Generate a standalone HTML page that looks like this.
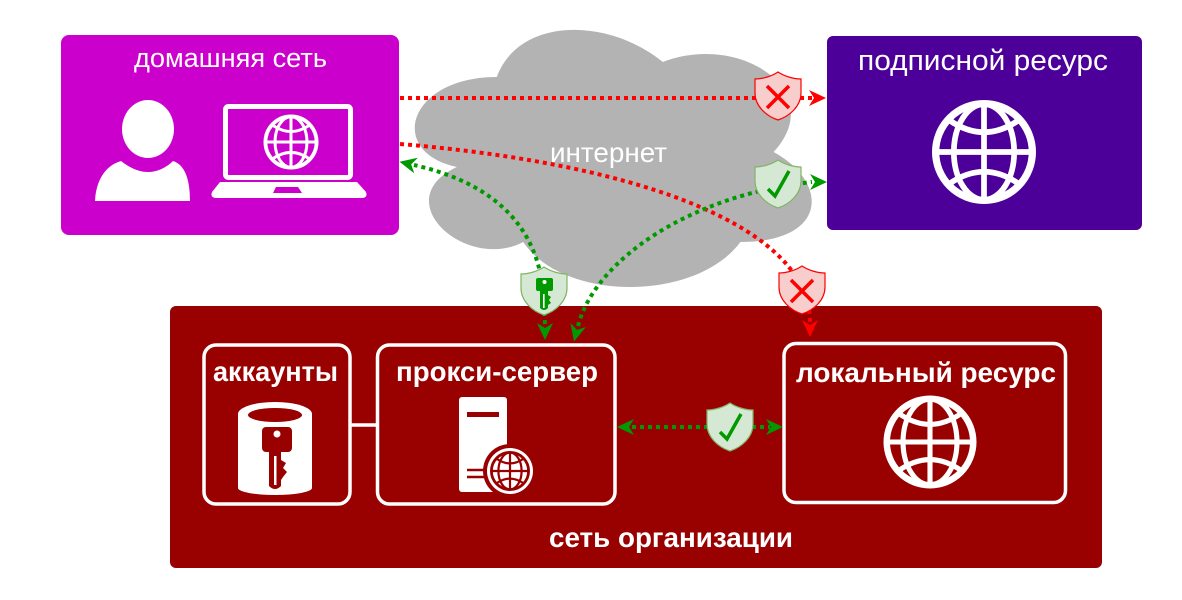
<!DOCTYPE html>
<html><head><meta charset="utf-8"><style>
html,body{margin:0;padding:0;background:#fff;}
svg{display:block;}
text{font-family:"Liberation Sans",Arial,sans-serif;fill:#fff;}
</style></head><body>
<svg width="1182" height="600" viewBox="0 0 1182 600" xmlns="http://www.w3.org/2000/svg">
<defs>
<symbol id="g" viewBox="-50 -50 100 100" overflow="visible">
<g fill="none">
<circle r="46.5" stroke-width="7"/>
<ellipse rx="29" ry="46" stroke-width="5.5"/>
<line x1="0" y1="-46" x2="0" y2="46" stroke-width="5.5"/>
<line x1="-46" y1="0" x2="46" y2="0" stroke-width="5.5"/>
<path d="M-34,-31 Q0,-7 34,-31" stroke-width="5.5"/>
<path d="M-34,31 Q0,7 34,31" stroke-width="5.5"/>
</g>
</symbol>
<symbol id="sh" viewBox="0 0 48 50" overflow="visible">
<path d="M1,8 C9,8 18,5 24,1 C30,5 39,8 47,8 L47,22 C47,35 36,45 24,49 C12,45 1,35 1,22 Z" stroke-width="1.2"/>
</symbol>
<path id="arr" d="M0,0 L-17,-8 L-12,0 L-17,8 Z"/>
</defs>

<rect width="1182" height="600" fill="#fff"/>

<!-- cloud -->
<path d="M496.75,77 C408.15,77 386,152 456.9,167 C386,200 465.7,272 523.3,242 C563.2,302 696.1,302 740.4,242 C829,242 829,182 773.6,152 C829,92 740.4,32 662.9,62 C607.5,17 518.9,17 496.75,77 Z" fill="#B3B3B3"/>
<text x="550" y="162" font-size="28" textLength="117" lengthAdjust="spacingAndGlyphs">интернет</text>

<!-- home network -->
<rect x="61" y="35" width="338" height="200" rx="8" fill="#CC00CC"/>
<text x="134" y="67" font-size="27" textLength="193" lengthAdjust="spacingAndGlyphs">домашняя сеть</text>
<ellipse cx="148" cy="129" rx="26" ry="29" fill="#fff"/>
<path d="M95,201 C96,182 104,166 121,161 C130,168 139,172 148,172 C157,172 166,168 173,161 C186,165 190,182 190,201 Z" fill="#fff"/>
<rect x="225.5" y="106.5" width="125" height="71" rx="3" fill="none" stroke="#fff" stroke-width="5"/>
<path d="M220,182 L357,182 L366,192 Q368,198 362,198 L216,198 Q210,198 212,192 Z" fill="#fff"/>
<path d="M276,187 L298,187 L302,193 L273,193 Z" fill="#CC00CC"/>
<use href="#g" x="263.5" y="114.5" width="55" height="55" stroke="#fff"/>

<!-- subscription resource -->
<rect x="827" y="36" width="315" height="194" rx="6" fill="#4C0099"/>
<text x="858" y="70" font-size="29" textLength="250" lengthAdjust="spacingAndGlyphs">подписной ресурс</text>
<use href="#g" x="932" y="100" width="104" height="104" stroke="#fff"/>

<!-- organization network -->
<rect x="170" y="306" width="932" height="262" rx="6" fill="#990000"/>
<rect x="204" y="345" width="146" height="159" rx="12" fill="none" stroke="#fff" stroke-width="3.5"/>
<rect x="377.5" y="345" width="237.5" height="159" rx="12" fill="none" stroke="#fff" stroke-width="3.5"/>
<rect x="784" y="343.5" width="281.5" height="159" rx="12" fill="none" stroke="#fff" stroke-width="3.5"/>
<line x1="350" y1="425" x2="377.5" y2="425" stroke="#fff" stroke-width="3.5"/>
<text x="213" y="381" font-size="28" font-weight="bold" textLength="125" lengthAdjust="spacingAndGlyphs">аккаунты</text>
<text x="396" y="381" font-size="28" font-weight="bold" textLength="202" lengthAdjust="spacingAndGlyphs">прокси-сервер</text>
<text x="796" y="382" font-size="28" font-weight="bold" textLength="260" lengthAdjust="spacingAndGlyphs">локальный ресурс</text>
<text x="549" y="547" font-size="28" font-weight="bold" textLength="244" lengthAdjust="spacingAndGlyphs">сеть организации</text>

<!-- accounts cylinder -->
<path d="M238,414 A37,12 0 0 1 312,414 L312,488 A37,7 0 0 1 238,488 Z" fill="#fff"/>
<ellipse cx="275" cy="415" rx="27" ry="7" fill="#990000"/>
<rect x="262" y="427" width="30" height="25" rx="4" fill="#990000"/>
<circle cx="277" cy="434" r="3.5" fill="#fff"/>
<path d="M269,450 L281,450 L281,460 L286,463 L283,468 L287,472 L283,477 L281,480 L281,486 Q275,492 269,486 Z" fill="#990000"/>
<rect x="274" y="456" width="2.5" height="29" fill="#fff"/>

<!-- server -->
<rect x="459" y="397" width="48" height="95" rx="3" fill="#fff"/>
<rect x="467" y="412" width="32" height="5" fill="#990000"/>
<line x1="467" y1="470" x2="492" y2="470" stroke="#990000" stroke-width="2.5"/>
<line x1="467" y1="477" x2="492" y2="477" stroke="#990000" stroke-width="2.5"/>
<circle cx="510" cy="471" r="27" fill="#990000"/>
<circle cx="510" cy="471" r="23" fill="#fff"/>
<use href="#g" x="490" y="451" width="40" height="40" stroke="#990000"/>

<!-- local resource globe -->
<use href="#g" x="883.5" y="395.5" width="93" height="93" stroke="#fff"/>

<!-- connectors -->
<g fill="none" stroke-width="4" stroke-dasharray="4 4">
<path d="M400,98 L812,98" stroke="#FF0000"/>
<path d="M400,144 C650,165 810,230 810,322" stroke="#FF0000"/>
<path d="M578,326 C595,260 690,195 812,182" stroke="#009900"/>
<path d="M545,324 L543,290 C535,215 480,180 414,165" stroke="#009900"/>
<path d="M632,427 L770,427" stroke="#009900"/>
</g>
<use href="#arr" transform="translate(826,98)" fill="#FF0000"/>
<use href="#arr" transform="translate(810,337) rotate(90)" fill="#FF0000"/>
<use href="#arr" transform="translate(827,182)" fill="#009900"/>
<use href="#arr" transform="translate(574,341.5) rotate(104.4)" fill="#009900"/>
<use href="#arr" transform="translate(545,340) rotate(90)" fill="#009900"/>
<use href="#arr" transform="translate(399.5,161.7) rotate(193)" fill="#009900"/>
<use href="#arr" transform="translate(617,427) rotate(180)" fill="#009900"/>
<use href="#arr" transform="translate(783,427)" fill="#009900"/>

<!-- shields -->
<g transform="translate(754,71)">
<use href="#sh" width="48" height="50" fill="#F8CECC" stroke="#FF0000"/>
<path d="M13,15 L35,37 M35,15 L13,37" stroke="#FF0000" stroke-width="3.5"/>
</g>
<g transform="translate(778,265)">
<use href="#sh" width="48" height="50" fill="#F8CECC" stroke="#FF0000"/>
<path d="M13,15 L35,37 M35,15 L13,37" stroke="#FF0000" stroke-width="3.5"/>
</g>
<g transform="translate(754,159)">
<use href="#sh" width="48" height="50" fill="#D5E8D4" stroke="#82B366"/>
<path d="M14,30 L21,37 L35,12" fill="none" stroke="#009900" stroke-width="3.5"/>
</g>
<g transform="translate(706,402)">
<use href="#sh" width="48" height="50" fill="#D5E8D4" stroke="#82B366"/>
<path d="M14,30 L21,37 L35,12" fill="none" stroke="#009900" stroke-width="3.5"/>
</g>
<g transform="translate(520,266)">
<use href="#sh" width="48" height="50" fill="#D5E8D4" stroke="#82B366"/>
<rect x="16" y="12" width="17" height="13" rx="2" fill="#009900"/>
<circle cx="24.5" cy="16" r="2" fill="#fff"/>
<path d="M20,24 L28,24 L28,29 L31,31 L29,34 L31,37 L28,39 L28,42 Q24,46 20,42 Z" fill="#009900"/>
<rect x="23" y="28" width="1.6" height="14" fill="#fff"/>
</g>
</svg>
</body></html>
